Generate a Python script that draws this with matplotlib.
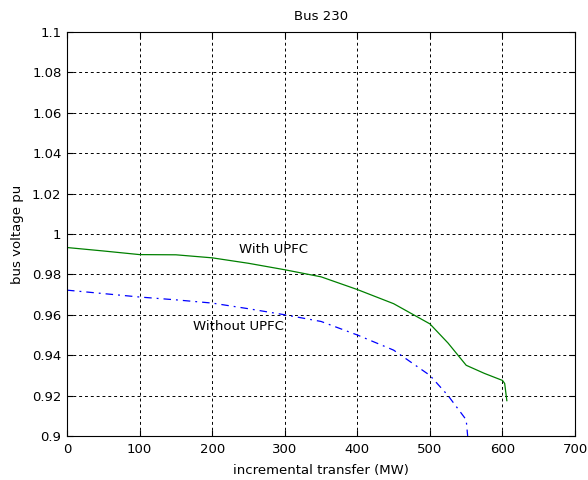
import matplotlib
matplotlib.use('Agg')
import matplotlib.pyplot as plt

plt.rcParams['font.family'] = ['DejaVu Sans']

# 带UPFC的母线电压
mw_with = [0, 50, 100, 150, 200, 250, 300, 350, 400, 450, 500, 525, 550, 575, 600, 603, 606]
v_with = [0.9933, 0.9916, 0.9898, 0.9897, 0.9882, 0.9855, 0.9823, 0.9788, 0.9725, 0.9655, 0.9555,
          0.946, 0.935, 0.931, 0.9275, 0.926, 0.9175]

# 不带UPFC的母线电压
mw_without = [0, 50, 100, 150, 200, 250, 300, 350, 400, 450, 500, 525, 550, 552]
v_without = [0.9722, 0.9705, 0.9688, 0.9674, 0.9658, 0.963, 0.96, 0.9567, 0.95, 0.9425, 0.930,
             0.92, 0.908, 0.9]

xticks = [0, 100, 200, 300, 400, 500, 600, 700]
yticks = [0.9, 0.92, 0.94, 0.96, 0.98, 1.0, 1.02, 1.04, 1.06, 1.08, 1.1]
ytick_labels = ['0.9', '0.92', '0.94', '0.96', '0.98', '1', '1.02', '1.04', '1.06', '1.08', '1.1']

fs = 9.5

fig = plt.figure(figsize=(5.88, 4.8), dpi=100)
ax = fig.add_axes([0.114, 0.0917, 0.864, 0.8416])

ax.plot(mw_with, v_with, color=(0, 0.5, 0), lw=0.9)
ax.plot(mw_without, v_without, color=(0, 0, 1), lw=0.9, linestyle=(0, (6, 4, 1.5, 4)))

ax.text(237, 0.9925, 'With UPFC', fontsize=fs, va='center')
ax.text(174, 0.954, 'Without UPFC', fontsize=fs, va='center')

ax.set_xlim(0, 700)
ax.set_ylim(0.9, 1.1)
ax.set_xticks(xticks)
ax.set_yticks(yticks)
ax.set_yticklabels(ytick_labels)
ax.tick_params(direction='in', labelsize=fs, length=4, top=True, right=True,
               labeltop=False, labelright=False)
ax.tick_params(axis='x', pad=5)
ax.tick_params(axis='y', pad=4)
ax.grid(True, color='black', linestyle=(0, (3, 3)), lw=0.7)
for s in ax.spines.values():
    s.set_linewidth(0.8)

ax.set_title('Bus 230', fontsize=fs, pad=9)
ax.set_xlabel('incremental transfer (MW)', fontsize=fs, labelpad=6)
ax.set_ylabel('bus voltage pu', fontsize=fs, labelpad=6)

plt.savefig('out.png', dpi=100)
